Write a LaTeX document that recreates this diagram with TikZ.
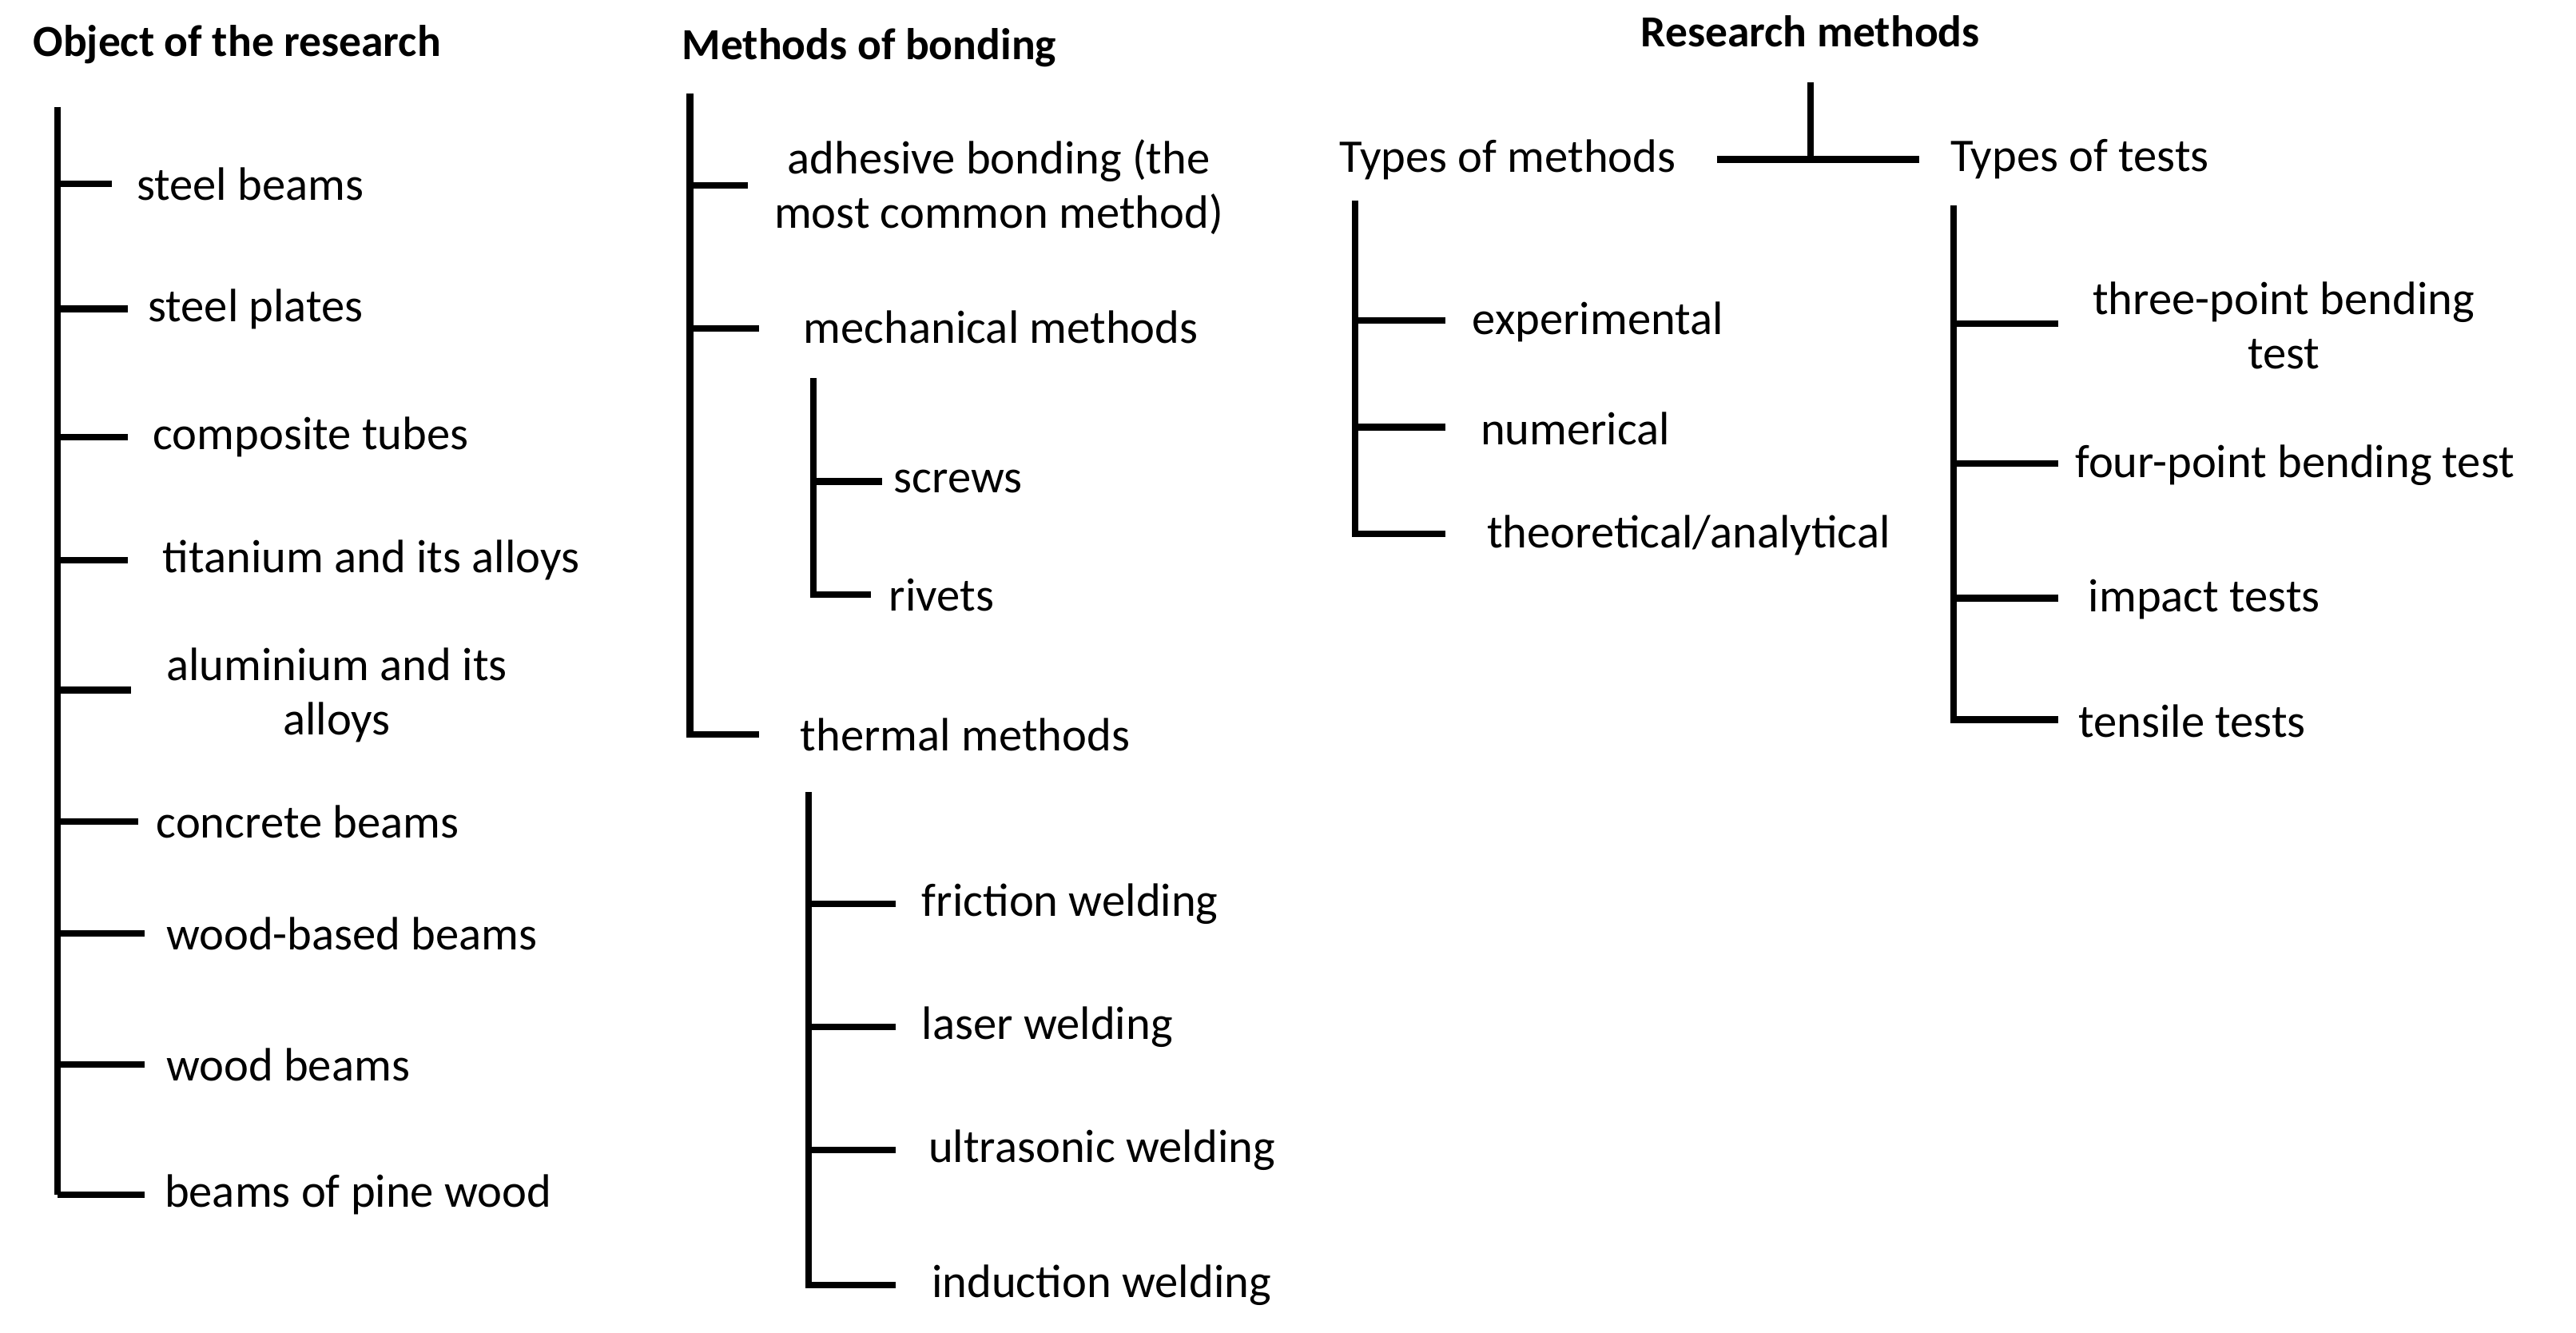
\documentclass[tikz,border=0pt]{standalone}
\usepackage{fontspec}
\setmainfont{Carlito}
\begin{document}
\begin{tikzpicture}[x=1pt,y=-1pt,
  ln/.style={line width=4pt},
  lab/.style={anchor=west,font=\fontsize{28.5}{32}\selectfont,inner sep=0pt},
  clab/.style={align=center,font=\fontsize{28.5}{33}\selectfont,inner sep=0pt},
  head/.style={font=\bfseries\fontsize{27}{30}\selectfont,inner sep=0pt}]
\useasboundingbox (0,0) rectangle (1568,811);
% column 1
\node[head,anchor=west] (h1) at (20,27) {Object of the research};
\draw[ln] (35,65) -- (35,727);
\foreach \y/\e/\x/\t in {112/68/83/steel beams,188/78/90/steel plates,266/78/93/composite tubes,341/78/99/titanium and its alloys,500/84/95/concrete beams,568/88/101/wood-based beams,648/88/101/wood beams,727/88/100/beams of pine wood}{
  \coordinate (a\y) at (35,\y);
  \node[lab] (n\y) at (\x,\y) {\t};
  \draw[ln] (a\y) -- (\e,\y);
}
\coordinate (a420) at (35,420);
\node[clab] (alu) at (205,423) {aluminium and its\\alloys};
\draw[ln] (a420) -- (80,420);
% column 2
\node[head,anchor=west] (h2) at (415,29) {Methods of bonding};
\draw[ln] (420,57) -- (420,447) -- (462,447);
\draw[ln] (420,113) -- (455,113);
\draw[ln] (420,200) -- (462,200);
\node[clab] (adh) at (608,114) {adhesive bonding (the\\most common method)};
\node[lab] (mech) at (489,199) {mechanical methods};
\node[lab] (therm) at (487,447) {thermal methods};
\draw[ln] (495,230) -- (495,362) -- (530,362);
\draw[ln] (495,293) -- (537,293);
\node[lab] (scr) at (544,293) {screws};
\node[lab] (riv) at (541,362) {rivets};
\draw[ln] (492,482) -- (492,782) -- (545,782);
\foreach \y/\x/\t in {550/561/friction welding,625/561/laser welding,700/565/ultrasonic welding,782/567/induction welding}{
  \draw[ln] (492,\y) -- (545,\y);
  \node[lab] at (\x,\y) {\t};
}
% column 3
\node[head] (h3) at (1102,19) {Research methods};
\draw[ln] (1102,50) -- (1102,97);
\draw[ln] (1045,97) -- (1168,97);
\node[lab] (tm) at (815,97) {Types of methods};
\node[lab] (tt) at (1187,97) {Types of tests};
\draw[ln] (825,122) -- (825,325) -- (880,325);
\foreach \y/\x/\t in {195/896/{experimental},260/901/{numerical},325/905/{theoretical/analytical}}{
  \draw[ln] (825,\y) -- (880,\y);
  \node[lab] at (\x,\y+1) {\t};
}
\draw[ln] (1189,125) -- (1189,438) -- (1253,438);
\draw[ln] (1189,197) -- (1253,197);
\node[clab] (tp) at (1390,198) {three-point bending\\test};
\foreach \y/\x/\t in {282/1263/four-point bending test,364/1271/impact tests,438/1265/tensile tests}{
  \draw[ln] (1189,\y) -- (1253,\y);
  \node[lab] at (\x,\y+1) {\t};
}
\end{tikzpicture}
\end{document}
